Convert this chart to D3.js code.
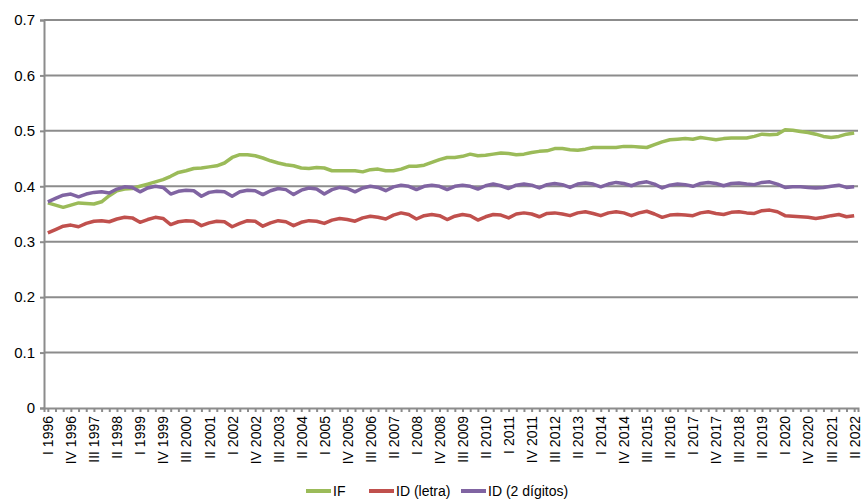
<!DOCTYPE html>
<html><head><meta charset="utf-8">
<script src="https://cdn.jsdelivr.net/npm/d3@7"></script>
<style>body{margin:0;background:#fff}text{font-family:"Liberation Sans Narrow","Arial Narrow","Liberation Sans",sans-serif;fill:#000}</style>
</head><body><svg width="862" height="499"></svg>
<script>
const roman = ["I", "II", "III", "IV"];
const quarters = [];
for (let yr = 1996; yr <= 2022; yr++) for (let q = 0; q < 4; q++) if (!(yr === 2022 && q > 1)) quarters.push(roman[q] + " " + yr);

const ifValues = [
  .370,.366,.362,.366, .370,.369,.368,.372, .383,.392,.395,.396, .400,.404,.408,.412,
  .418,.425,.428,.432, .433,.435,.437,.442, .452,.457,.457,.455, .451,.446,.442,.439,
  .437,.433,.432,.434, .433,.428,.428,.428, .428,.426,.430,.431, .428,.428,.431,.436,
  .436,.438,.443,.448, .452,.452,.454,.458, .455,.456,.458,.460, .459,.457,.458,.461,
  .463,.464,.468,.468, .466,.465,.467,.470, .470,.470,.470,.472, .472,.471,.470,.475,
  .480,.484,.485,.486, .485,.488,.486,.484, .486,.487,.487,.487, .490,.494,.493,.494,
  .502,.501,.499,.497, .494,.490,.488,.490, .494,.496];
const idLetra = [
  .316,.322,.328,.330, .327,.333,.337,.338, .336,.341,.344,.343, .335,.340,.344,.342,
  .331,.336,.338,.337, .329,.334,.337,.336, .327,.333,.338,.337, .328,.334,.338,.336,
  .329,.335,.338,.337, .333,.339,.342,.340, .337,.343,.346,.344, .341,.348,.352,.349,
  .341,.347,.349,.347, .340,.346,.349,.347, .339,.345,.349,.348, .343,.350,.352,.350,
  .345,.351,.352,.350, .347,.352,.354,.351, .347,.352,.354,.352, .347,.352,.355,.350,
  .344,.348,.349,.348, .347,.352,.354,.351, .349,.353,.354,.352, .351,.356,.357,.354,
  .347,.346,.345,.344, .342,.344,.347,.349, .345,.347];
const id2 = [
  .372,.378,.384,.386, .381,.386,.389,.390, .388,.395,.399,.398, .390,.397,.400,.398,
  .386,.391,.393,.392, .382,.389,.391,.390, .382,.390,.393,.392, .385,.392,.396,.394,
  .385,.393,.397,.395, .386,.394,.398,.396, .390,.397,.400,.398, .392,.399,.402,.400,
  .394,.400,.402,.400, .394,.400,.402,.400, .395,.401,.404,.401, .396,.402,.404,.402,
  .397,.403,.405,.403, .398,.404,.406,.404, .399,.404,.407,.405, .401,.406,.408,.404,
  .397,.402,.404,.403, .400,.405,.407,.405, .401,.405,.406,.404, .403,.407,.408,.404,
  .398,.399,.399,.398, .397,.398,.400,.402, .398,.399];
const yTicks = [0, 0.1, 0.2, 0.3, 0.4, 0.5, 0.6, 0.7];

const series = [
  {name: "IF", values: ifValues, color: "#9bbb59"},
  {name: "ID (letra)", values: idLetra, color: "#c0504d"},
  {name: "ID (2 dígitos)", values: id2, color: "#8064a2"}
];

const svg = d3.select("svg");
const mLeft = 44, mRight = 858, mTop = 20, mBottom = 408;
const x = d3.scalePoint().domain(quarters).range([mLeft, mRight]).padding(0.5);
const y = d3.scaleLinear().domain([0, 0.7]).range([mBottom, mTop]);

// grid
svg.selectAll(".grid").data(yTicks.slice(1)).enter().append("line")
  .attr("x1", mLeft).attr("x2", mRight).attr("y1", d => y(d)).attr("y2", d => y(d))
  .attr("stroke", "#8c8c8c").attr("stroke-width", 2);

const ya = svg.append("g").attr("transform", `translate(${mLeft},0)`)
  .call(d3.axisLeft(y).tickValues(yTicks).tickSize(4).tickFormat(d => d === 0 ? "0" : d3.format(".1f")(d)));
ya.selectAll("text").style("font-size", "15px").attr("dx", "-2");

const xa = svg.append("g").attr("transform", `translate(0,${mBottom})`)
  .call(d3.axisBottom(x).tickSize(4).tickFormat((d, i) => i % 3 === 0 ? d : ""));
xa.selectAll("text").style("font-size", "14px")
  .attr("transform", "rotate(-90)").attr("text-anchor", "end")
  .attr("x", -8).attr("y", 0).attr("dy", "0.35em");
svg.selectAll(".domain, .tick line").attr("stroke", "#8c8c8c").attr("stroke-width", 2);

const line = d3.line().x((d, i) => x(quarters[i])).y(d => y(d));
series.forEach(s => {
  svg.append("path").datum(s.values).attr("d", line).attr("fill", "none")
    .attr("stroke", s.color).attr("stroke-width", 3.5).attr("stroke-linejoin", "round");
});

const legendX = [306, 369, 461];
series.forEach((s, i) => {
  const g = svg.append("g").attr("transform", `translate(${legendX[i]},491)`);
  g.append("line").attr("x1", 0).attr("x2", 25).attr("stroke", s.color).attr("stroke-width", 4);
  g.append("text").attr("x", 27).attr("dy", "0.35em").style("font-size", "14px").text(s.name);
});
</script></body></html>
